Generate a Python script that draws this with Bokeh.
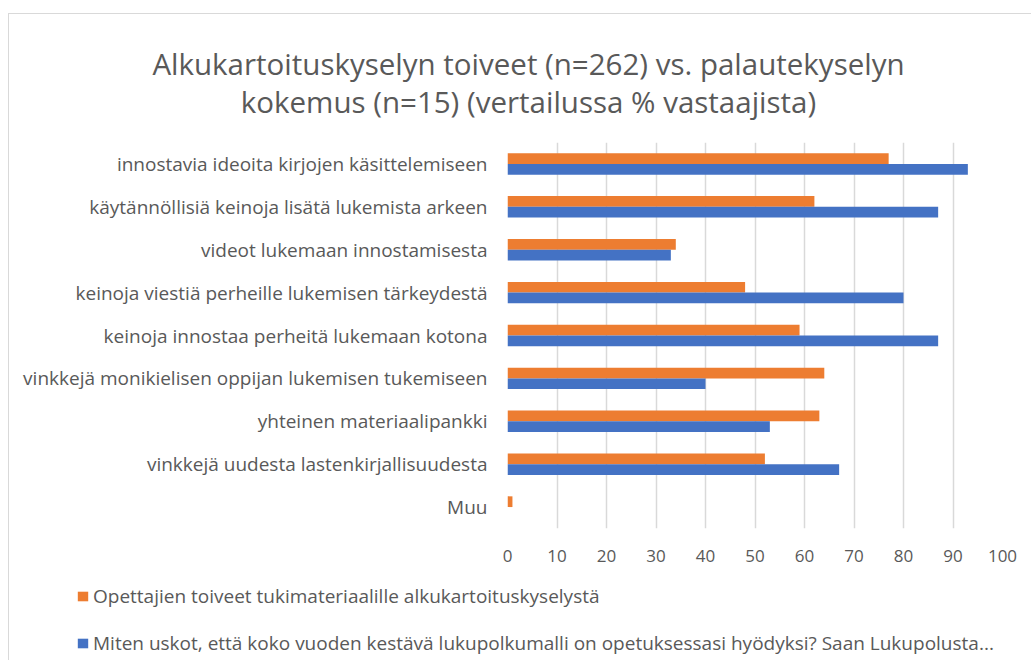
from bokeh.plotting import figure
from bokeh.layouts import column
from bokeh.models import (FactorRange, Range1d, Legend, LegendItem, ColumnDataSource,
                          FixedTicker, Label)
from bokeh.transform import dodge
from bokeh.embed import file_html
from bokeh.resources import INLINE

categories = [
    "innostavia ideoita kirjojen käsittelemiseen",
    "käytännöllisiä keinoja lisätä lukemista arkeen",
    "videot lukemaan innostamisesta",
    "keinoja viestiä perheille lukemisen tärkeydestä",
    "keinoja innostaa perheitä lukemaan kotona",
    "vinkkejä monikielisen oppijan lukemisen tukemiseen",
    "yhteinen materiaalipankki",
    "vinkkejä uudesta lastenkirjallisuudesta",
    "Muu",
]
toiveet = [77, 62, 34, 48, 59, 64, 63, 52, 1]
kokemus = [93, 87, 33, 80, 87, 40, 53, 67, 0]
x_ticks = [0, 10, 20, 30, 40, 50, 60, 70, 80, 90, 100]
series_names = [
    "Opettajien toiveet tukimateriaalille alkukartoituskyselystä",
    "Miten uskot, että koko vuoden kestävä lukupolkumalli on opetuksessasi hyödyksi? Saan Lukupolusta...",
]
title_lines = [
    "Alkukartoituskyselyn toiveet (n=262) vs. palautekyselyn",
    "kokemus (n=15) (vertailussa % vastaajista)",
]

ORANGE = "#ED7D31"
BLUE = "#4472C4"
TXT = "#595959"
FONT = "Open Sans"
W = 1022


def bare(fig):
    fig.outline_line_color = None
    fig.xgrid.grid_line_color = None
    fig.ygrid.grid_line_color = None
    fig.frame_align = False
    return fig


src = ColumnDataSource(dict(cat=categories, toiveet=toiveet, kokemus=kokemus))
y_range = FactorRange(factors=list(reversed(categories)), range_padding=0)
x_range = Range1d(0, 100)

# ---- header with the two-line title
head = bare(figure(width=W, height=128, x_range=Range1d(0, 1), y_range=Range1d(0, 1),
                   x_axis_type=None, y_axis_type=None, output_backend="svg",
                   toolbar_location=None, min_border=0))
for txt, yy in zip(title_lines, [79, 41]):
    head.add_layout(Label(x=519, y=yy, x_units="screen", y_units="screen", text=txt,
                          text_align="center", text_baseline="alphabetic", text_font=FONT,
                          text_font_size="29.5px", text_color=TXT))

# ---- main bar chart
p = figure(
    width=W, height=438, y_range=y_range, x_range=x_range,
    output_backend="svg", toolbar_location=None,
    min_border_left=498, min_border_right=29, min_border_top=0, min_border_bottom=52,
)
r1 = p.hbar(y=dodge("cat", 0.125, range=y_range), right="toiveet", left=0, height=0.25,
            source=src, fill_color=ORANGE, line_color=None)
r2 = p.hbar(y=dodge("cat", -0.125, range=y_range), right="kokemus", left=0, height=0.25,
            source=src, fill_color=BLUE, line_color=None)

p.outline_line_color = None
p.ygrid.grid_line_color = None
p.xgrid.grid_line_color = "#d9d9d9"
p.xgrid.grid_line_width = 1.5
p.xaxis.ticker = FixedTicker(ticks=x_ticks)
for ax in (p.xaxis, p.yaxis):
    ax.axis_line_color = None
    ax.major_tick_line_color = None
    ax.minor_tick_line_color = None
    ax.major_tick_out = 0
    ax.major_tick_in = 0
    ax.minor_tick_out = 0
    ax.major_label_text_font = FONT
    ax.major_label_text_color = TXT
p.yaxis.major_label_text_font_size = "19px"
p.xaxis.major_label_text_font_size = "17px"
p.xaxis.major_label_standoff = 21
p.yaxis.major_label_standoff = 20

# ---- footer with the legend
foot = bare(figure(width=W, height=80, y_range=y_range, x_range=x_range,
                   x_axis_type=None, y_axis_type=None, output_backend="svg",
                   toolbar_location=None, min_border=0))
l1 = foot.hbar(y=dodge("cat", 0.125, range=y_range), right="toiveet", left=0, height=0.25,
               source=src, fill_color=ORANGE, line_color=None, visible=False)
l2 = foot.hbar(y=dodge("cat", -0.125, range=y_range), right="kokemus", left=0, height=0.25,
               source=src, fill_color=BLUE, line_color=None, visible=False)
legend = Legend(
    items=[LegendItem(label=series_names[0], renderers=[l1]),
           LegendItem(label=series_names[1], renderers=[l2])],
    location=(67, 4), orientation="vertical", click_policy="none",
    label_text_font=FONT, label_text_font_size="19px", label_text_color=TXT,
    glyph_width=13, glyph_height=12, label_height=20, spacing=21, label_standoff=4,
    padding=0, margin=0, border_line_color=None, background_fill_alpha=0,
)
foot.add_layout(legend, "center")

page = column(head, p, foot, spacing=0)
page.styles = {"border-left": "1px solid #d9d9d9", "border-top": "1px solid #d9d9d9",
               "margin-top": "13px", "margin-left": "8px"}

open("out.html", "w").write(file_html(page, INLINE))
